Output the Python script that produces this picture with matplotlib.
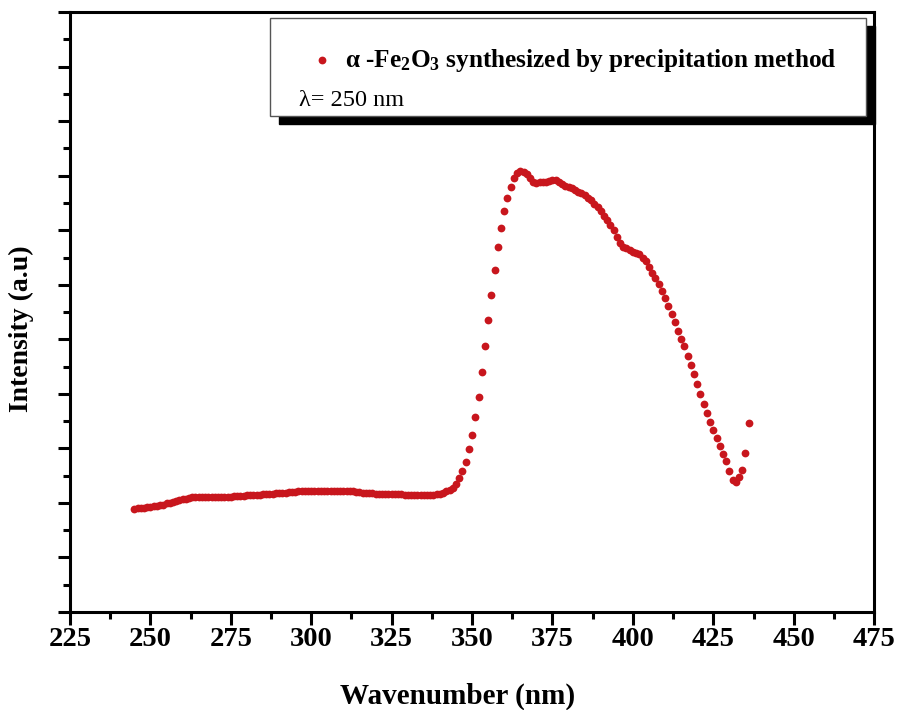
import numpy as np
import matplotlib.pyplot as plt
from matplotlib.patches import Rectangle
from matplotlib.ticker import MultipleLocator

plt.rcParams['font.family'] = ['Liberation Serif', 'DejaVu Serif']
plt.rcParams['mathtext.default'] = 'regular'

# wavelength (nm), 1 nm steps
wavelength = np.arange(245, 437)
# intensity (a.u), one value per dot
intensity = [
    1.89, 1.90, 1.90, 1.91, 1.92, 1.93, 1.94, 1.95, 1.96, 1.97,   # 245-254
    1.99, 2.00, 2.02, 2.04, 2.06, 2.07, 2.08, 2.09, 2.10, 2.10,   # 255-264
    2.10, 2.10, 2.10, 2.10, 2.10, 2.10, 2.11, 2.11, 2.11, 2.11,   # 265-274
    2.11, 2.12, 2.12, 2.13, 2.13, 2.14, 2.14, 2.15, 2.15, 2.15,   # 275-284
    2.16, 2.16, 2.17, 2.17, 2.18, 2.18, 2.19, 2.19, 2.20, 2.20,   # 285-294
    2.20, 2.21, 2.21, 2.21, 2.22, 2.22, 2.22, 2.22, 2.22, 2.22,   # 295-304
    2.22, 2.22, 2.22, 2.22, 2.22, 2.22, 2.22, 2.21, 2.21, 2.20,   # 305-314
    2.20, 2.19, 2.19, 2.18, 2.18, 2.17, 2.17, 2.17, 2.17, 2.16,   # 315-324
    2.16, 2.16, 2.16, 2.16, 2.15, 2.15, 2.15, 2.15, 2.15, 2.14,   # 325-334
    2.14, 2.14, 2.14, 2.15, 2.16, 2.17, 2.19, 2.21, 2.24, 2.28,   # 335-344
    2.34, 2.45, 2.58, 2.75, 2.98, 3.25, 3.58, 3.95, 4.40, 4.88,   # 345-354
    5.35, 5.82, 6.28, 6.70, 7.05, 7.35, 7.60, 7.80, 7.96, 8.05,   # 355-364
    8.08, 8.07, 8.03, 7.95, 7.89, 7.87, 7.88, 7.89, 7.89, 7.90,   # 365-374
    7.92, 7.92, 7.89, 7.85, 7.82, 7.80, 7.77, 7.74, 7.71, 7.69,   # 375-384
    7.65, 7.60, 7.55, 7.48, 7.42, 7.35, 7.27, 7.18, 7.10, 7.00,   # 385-394
    6.88, 6.76, 6.70, 6.67, 6.64, 6.61, 6.58, 6.56, 6.50, 6.43,   # 395-404
    6.33, 6.22, 6.12, 6.01, 5.89, 5.76, 5.61, 5.46, 5.31, 5.16,   # 405-414
    5.01, 4.87, 4.70, 4.53, 4.36, 4.18, 4.00, 3.82, 3.65, 3.49,   # 415-424
    3.34, 3.19, 3.05, 2.90, 2.76, 2.58, 2.42, 2.39, 2.47, 2.60,   # 425-434
    2.92, 3.47,                                                   # 435-436
]

red = '#c8161d'

fig = plt.figure(figsize=(9.01, 7.10), dpi=100)
ax = fig.add_axes([0.0777, 0.138, 0.8925, 0.845])

ax.plot(wavelength, intensity, 'o', ms=5.6, color=red, mec='none')

ax.set_xlim(225, 475)
ax.set_ylim(0, 11)
ax.xaxis.set_major_locator(MultipleLocator(25))
ax.xaxis.set_minor_locator(MultipleLocator(12.5))
ax.yaxis.set_major_locator(MultipleLocator(1))
ax.yaxis.set_minor_locator(MultipleLocator(0.5))
ax.tick_params(which='both', direction='out', width=2.2, top=False, right=False)
ax.tick_params(which='major', length=9)
ax.tick_params(which='minor', length=5)
ax.tick_params(axis='x', labelsize=20.5, pad=2)
ax.set_yticklabels([])
for lab in ax.get_xticklabels():
    lab.set_fontweight('bold')
for s in ax.spines.values():
    s.set_linewidth(2.2)

ax.set_xlabel('Wavenumber (nm)', fontsize=21, fontweight='bold')
ax.xaxis.set_label_coords(0.4825, -0.118)
ax.set_ylabel('Intensity (a.u)', fontsize=20, fontweight='bold')
ax.yaxis.set_label_coords(-0.045, 0.473)

# boxed legend with black drop shadow
bx0, by0, bw, bh = 0.249, 0.827, 0.741, 0.163
ax.add_patch(Rectangle((bx0 + 0.0105, by0 - 0.0135), bw, bh, transform=ax.transAxes,
                       facecolor='black', edgecolor='black', clip_on=False, zorder=4))
ax.add_patch(Rectangle((bx0, by0), bw, bh, transform=ax.transAxes,
                       facecolor='white', edgecolor='#555555', lw=1, clip_on=False, zorder=5))
ax.plot([0.313], [0.92], 'o', ms=5.6, color=red, mec='none', transform=ax.transAxes,
        clip_on=False, zorder=6)
ax.text(0.342, 0.92, r'$\alpha$ -Fe$_2$O$_3$ synthesized by precipitation method',
        transform=ax.transAxes, fontsize=18.2, fontweight='bold', va='center', zorder=6)
ax.text(0.285, 0.853, 'λ= 250 nm', transform=ax.transAxes, fontsize=17.5,
        va='center', zorder=6)

fig.savefig('out.png', dpi=100)
